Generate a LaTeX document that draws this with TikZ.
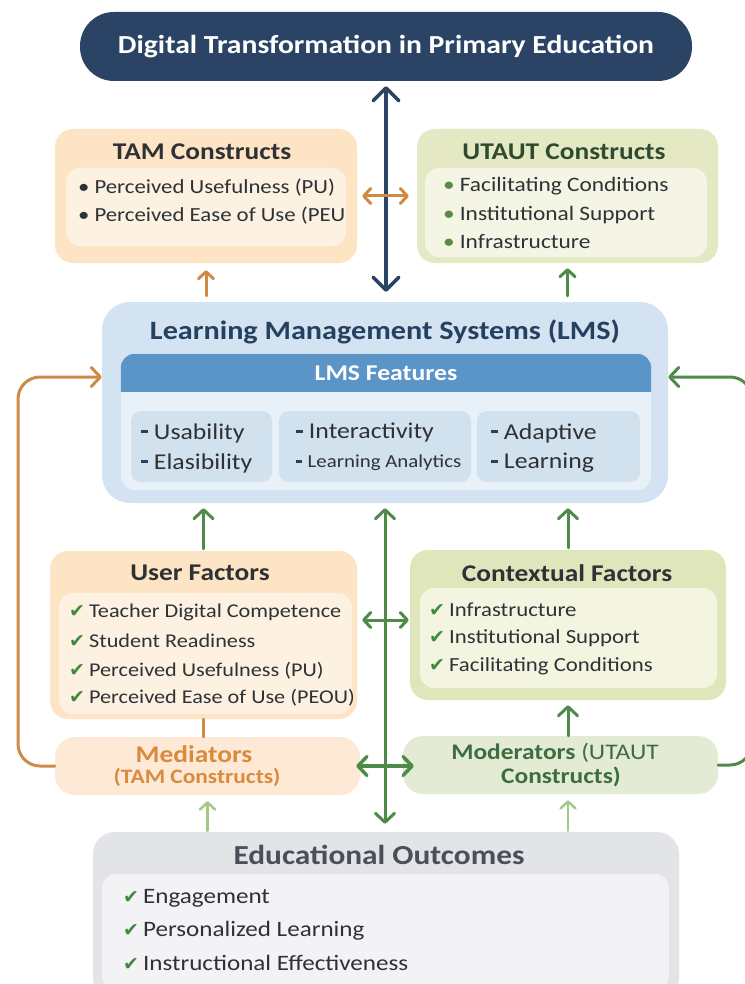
\documentclass[tikz,border=0pt]{standalone}
\usepackage{fontspec}
\setmainfont{Carlito}[FakeStretch=1.14]
\newfontfamily\symfont{DejaVu Sans}
\usetikzlibrary{arrows.meta}

\definecolor{navy}{HTML}{2B4466}
\definecolor{inkdark}{HTML}{2E3236}
\definecolor{inkgreen}{HTML}{2F4A2F}
\definecolor{inkblue}{HTML}{26405F}
\definecolor{inkgray}{HTML}{4A4F58}
\definecolor{tamout}{HTML}{FDE4C4}
\definecolor{tamin}{HTML}{FDF1E2}
\definecolor{utout}{HTML}{E4E9C4}
\definecolor{utin}{HTML}{F4F5E5}
\definecolor{ctxout}{HTML}{E0E6BB}
\definecolor{ctxin}{HTML}{F3F5E1}
\definecolor{medfill}{HTML}{FDE9D6}
\definecolor{modfill}{HTML}{E3EBD5}
\definecolor{lmsout}{HTML}{D3E3F2}
\definecolor{lmsin}{HTML}{E8F0F8}
\definecolor{lmsband}{HTML}{5B95C8}
\definecolor{lmssub}{HTML}{D2E1EE}
\definecolor{eduout}{HTML}{E3E4E7}
\definecolor{eduin}{HTML}{F3F3F5}
\definecolor{orangeline}{HTML}{CF8A45}
\definecolor{medtext}{HTML}{D88B3C}
\definecolor{greenline}{HTML}{4E8A48}
\definecolor{modtext}{HTML}{3D6E3F}
\definecolor{lightgreen}{HTML}{A3C98A}
\definecolor{chk}{HTML}{3F8A3C}
\definecolor{dotgreen}{HTML}{5C8A45}

\newcommand\titlesize{\fontsize{26}{30}\selectfont\bfseries}
\newcommand\headsize{\fontsize{24}{28}\selectfont\bfseries}
\newcommand\bodysize{\fontsize{20.5}{24}\selectfont}
\newcommand\listsize{\fontsize{20}{24}\selectfont}
\newcommand\featsize{\fontsize{22.6}{26}\selectfont}
\newcommand\chkmark{{\color{chk}\symfont\fontsize{19}{22}\selectfont ✔}\hspace{4pt}}
\newcommand\dotmark[1]{{\color{#1}\textbullet}\hspace{5pt}}
\newcommand\dashmark{{\color{inkblue}\rule[0.28em]{0.3em}{0.13em}}\hspace{6pt}}

\begin{document}
\begin{tikzpicture}[x=1pt,y=-1pt,
  panel/.style={rounded corners=#1, inner sep=0pt, draw=none},
  panel/.default=18pt,
  item/.style={anchor=west, inner sep=0pt, text=inkdark, font=\bodysize},
  tipbig/.tip={Straight Barb[length=13pt,width=26pt,round]},
  tipmid/.tip={Straight Barb[length=9pt,width=19pt,round]},
  tipsmall/.tip={Straight Barb[length=7pt,width=15pt,round]},
  arr/.style={line width=3pt, line cap=round, line join=round},
]
\useasboundingbox (0,0) rectangle (744,984);
\fill[white] (0,0) rectangle (744,984);

% ---------- top banner ----------
\node[panel=34pt, fill=navy, minimum width=612pt, minimum height=69pt] (title) at (386,46.5) {};
\node[text=white, font=\titlesize] (titletxt) at (title.center) {Digital Transformation in Primary Education};

% ---------- TAM constructs ----------
\node[panel, fill=tamout, minimum width=302pt, minimum height=134pt] (tam) at (206,196) {};
\node[panel=14pt, fill=tamin, minimum width=280pt, minimum height=78pt] (tamin) at (206,207) {};
\node[font=\headsize, text=inkdark] (tamhead) at (202,152) {TAM Constructs};
\node[item, font=\listsize] (tam1) at (78,188) {\dotmark{inkdark}Perceived Usefulness (PU)};
\node[item, font=\listsize] (tam2) at (78,216) {\dotmark{inkdark}Perceived Ease of Use (PEU};

% ---------- UTAUT constructs ----------
\node[panel, fill=utout, minimum width=301pt, minimum height=134pt] (utaut) at (567.5,196) {};
\node[panel=14pt, fill=utin, minimum width=282pt, minimum height=89pt] (utin) at (566,212.5) {};
\node[font=\headsize, text=inkgreen] (uthead) at (564,152) {UTAUT Constructs};
\node[item] (ut1) at (443,186) {\dotmark{dotgreen}Facilitating Conditions};
\node[item] (ut2) at (443,215) {\dotmark{dotgreen}Institutional Support};
\node[item] (ut3) at (443,242) {\dotmark{dotgreen}Infrastructure};

% ---------- LMS ----------
\node[panel=28pt, fill=lmsout, minimum width=566pt, minimum height=201pt] (lms) at (385,402.5) {};
\node[panel=14pt, fill=lmsin, minimum width=530pt, minimum height=136pt] (lmsin) at (386,422) {};
\begin{scope}
  \clip[rounded corners=14pt] (lmsin.north west) rectangle (lmsin.south east);
  \node[fill=lmsband, anchor=north, inner sep=0pt, minimum width=532pt, minimum height=38pt] (band) at (lmsin.north) {};
\end{scope}
\node[font=\fontsize{26.5}{30}\selectfont\bfseries, text=inkblue] (lmshead) at (385,332) {Learning Management Systems (LMS)};
\node[font=\fontsize{22.5}{26}\selectfont\bfseries, text=white] (bandtxt) at (band.center) {LMS Features};

\node[panel=10pt, fill=lmssub, minimum width=141pt, minimum height=71pt] (subA) at (201.5,446.5) {};
\node[panel=10pt, fill=lmssub, minimum width=192pt, minimum height=71pt] (subB) at (375,446.5) {};
\node[panel=10pt, fill=lmssub, minimum width=163pt, minimum height=71pt] (subC) at (558.5,446.5) {};
\node[item, font=\featsize] (fa1) at (141,433) {\dashmark Usability};
\node[item, font=\featsize] (fa2) at (141,463) {\dashmark Elasibility};
\node[item, font=\featsize] (fb1) at (296,433) {\dashmark Interactivity};
\node[item, font=\fontsize{18.3}{21}\selectfont] (fb2) at (296,463) {\dashmark Learning Analytics};
\node[item, font=\featsize] (fc1) at (491,433) {\dashmark Adaptive};
\node[item, font=\featsize] (fc2) at (491,463) {\dashmark Learning};

% ---------- user factors ----------
\node[panel, fill=tamout, minimum width=307pt, minimum height=168pt] (user) at (203.5,635) {};
\node[panel=14pt, fill=tamin, minimum width=293pt, minimum height=121pt] (userin) at (205.5,653.5) {};
\node[font=\headsize, text=inkdark] (userhead) at (200,573) {User Factors};
\node[item, font=\fontsize{19.5}{23}\selectfont] (u1) at (69,612) {\chkmark Teacher Digital Competence};
\node[item, font=\fontsize{19.5}{23}\selectfont] (u2) at (69,641) {\chkmark Student Readiness};
\node[item, font=\fontsize{19.5}{23}\selectfont] (u3) at (69,671) {\chkmark Perceived Usefulness (PU)};
\node[item, font=\fontsize{19.5}{23}\selectfont] (u4) at (69,698) {\chkmark Perceived Ease of Use (PEOU)};

% ---------- contextual factors ----------
\node[panel, fill=ctxout, minimum width=316pt, minimum height=150pt] (ctx) at (568,625) {};
\node[panel=14pt, fill=ctxin, minimum width=297pt, minimum height=100pt] (ctxin) at (568.5,638) {};
\node[font=\headsize, text=inkdark] (ctxhead) at (567,573) {Contextual Factors};
\node[item, font=\listsize] (c1) at (429,610) {\chkmark Infrastructure};
\node[item, font=\listsize] (c2) at (429,638) {\chkmark Institutional Support};
\node[item, font=\listsize] (c3) at (429,666) {\chkmark Facilitating Conditions};

% ---------- mediators / moderators ----------
\node[panel=20pt, fill=medfill, minimum width=305pt, minimum height=58pt] (med) at (207.5,766) {};
\node[font=\headsize, text=medtext] (medt1) at (194,754) {Mediators};
\node[font=\fontsize{20.5}{24}\selectfont\bfseries, text=medtext] (medt2) at (197,777) {(TAM Constructs)};
\node[panel=20pt, fill=modfill, minimum width=315pt, minimum height=58pt] (mod) at (560.5,765) {};
\node[font=\fontsize{22.3}{26}\selectfont\bfseries, text=modtext] (modt1) at (555,753) {Moderators \mdseries(UTAUT};
\node[font=\fontsize{22.3}{26}\selectfont\bfseries, text=modtext] (modt2) at (561,777) {Constructs)};

% ---------- educational outcomes ----------
\node[panel=22pt, fill=eduout, minimum width=586pt, minimum height=168pt] (edu) at (386,916) {};
\node[panel=14pt, fill=eduin, minimum width=567pt, minimum height=116pt] (eduin) at (385.5,932) {};
\node[font=\fontsize{27.5}{32}\selectfont\bfseries, text=inkgray] (eduhead) at (379,855) {Educational Outcomes};
\node[item, font=\fontsize{22}{26}\selectfont] (e1) at (123,898) {\chkmark Engagement};
\node[item, font=\fontsize{22}{26}\selectfont] (e2) at (123,931) {\chkmark Personalized Learning};
\node[item, font=\fontsize{22}{26}\selectfont] (e3) at (123,963) {\chkmark Instructional Effectiveness};

% ---------- connectors ----------
\draw[arr, navy, line width=3.5pt, {tipbig}-{tipbig}, shorten <=5pt, shorten >=10pt]
  (title.south) -- (title.south |- lms.north);
\draw[arr, orangeline, {tipsmall}-{tipsmall}, shorten <=5pt, shorten >=8pt]
  (tam.east) -- (tam.east -| utaut.west);
\draw[arr, orangeline, -{tipsmall}, shorten <=6pt, shorten >=7pt]
  (tam.south |- lms.north) -- (tam.south);
\draw[arr, greenline, -{tipsmall}, shorten <=6pt, shorten >=5pt]
  (utaut.south |- lms.north) -- (utaut.south);

\draw[arr, greenline, -{tipmid}, shorten <=2pt, shorten >=5pt]
  (user.north) -- (user.north |- lms.south);
\draw[arr, greenline, -{tipmid}, shorten <=2pt, shorten >=5pt]
  (ctx.north) -- (ctx.north |- lms.south);
\draw[arr, greenline, {tipmid}-{tipmid}, shorten <=5pt, shorten >=8pt]
  (lms.south) -- (lms.south |- edu.north);

\coordinate (uc) at ([yshift=15pt]user.east);
\draw[arr, greenline, {tipsmall}-{tipsmall}, shorten <=5pt, shorten >=1pt]
  (uc) -- (uc -| ctx.west);
\draw[arr, greenline, line width=3.5pt, {tipmid}-{tipmid}, shorten <=-4pt, shorten >=-11pt]
  (med.east) -- (med.east -| mod.west);

\draw[arr, orangeline] (user.south) -- (user.south |- med.north);
\draw[arr, greenline, -{tipmid}, shorten >=5pt]
  (ctx.south |- mod.north) -- (ctx.south);

\draw[arr, lightgreen, line width=2.5pt, -{tipsmall}, shorten <=1pt, shorten >=6pt]
  (med.south |- edu.north) -- (med.south);
\draw[arr, lightgreen, line width=2.5pt, -{tipsmall}, shorten <=1pt, shorten >=6pt]
  (ctx.south |- edu.north) -- (ctx.south |- mod.south);

% feedback loops into the LMS
\coordinate (lx) at (18,0);
\coordinate (rx) at (752,0);
\coordinate (lmsin-l) at ([yshift=-4pt]band.west);
\draw[arr, orangeline, rounded corners=22pt, -{tipmid}]
  (med.west) -- (med.west -| lx) -- (lx |- lmsin-l) -- (lms.west |- lmsin-l);
\draw[arr, greenline, rounded corners=22pt, -{tipmid}]
  (mod.east) -- (mod.east -| rx) -- (rx |- lmsin-l) -- (lms.east |- lmsin-l);
\end{tikzpicture}
\end{document}
